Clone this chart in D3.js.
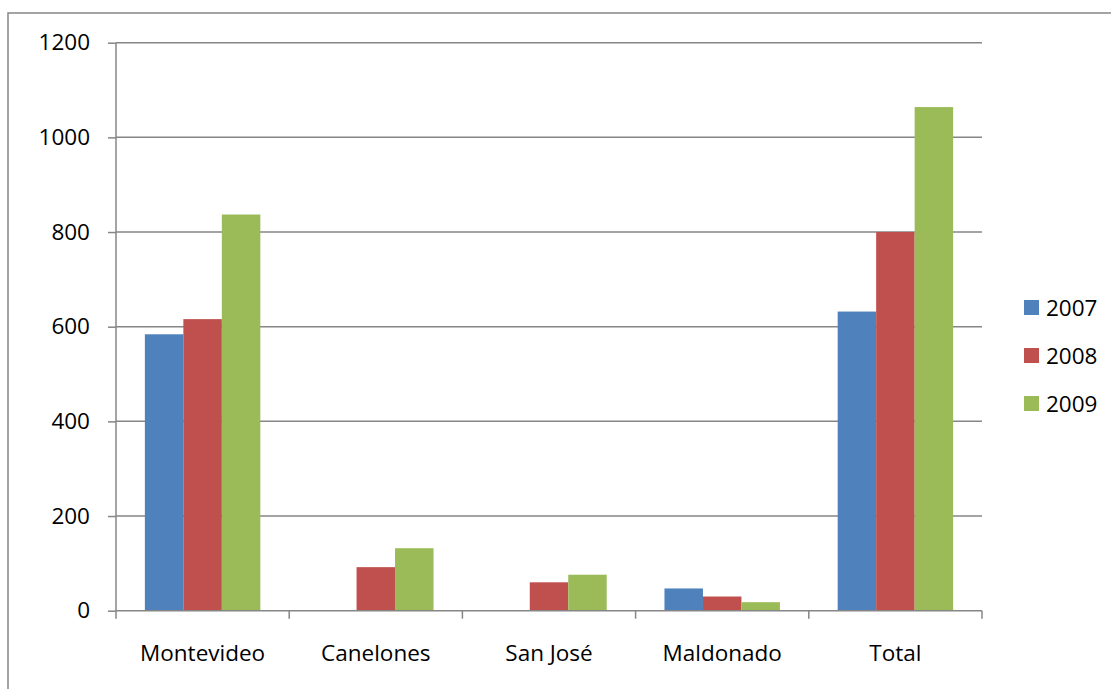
<!DOCTYPE html>
<html>
<head>
<meta charset="utf-8">
<script src="https://cdn.jsdelivr.net/npm/d3@7"></script>
<style>
  html, body { margin: 0; padding: 0; background: #fff; }
  svg { display: block; }
  text { font-family: "Open Sans", "Liberation Sans", sans-serif; fill: #000; }
</style>
</head>
<body>
<svg id="chart" width="1111" height="689"></svg>
<script>
// Departments and yearly values
const categories = ["Montevideo", "Canelones", "San José", "Maldonado", "Total"];
const years = ["2007", "2008", "2009"];
const values2007 = [584, 0, 0, 47, 632];
const values2008 = [616, 92, 60, 30, 800];
const values2009 = [837, 132, 76, 18, 1064];
const yTicks = [0, 200, 400, 600, 800, 1000, 1200];
const colors = ["#4f81bd", "#c0504d", "#9bbb59"];

const series = [values2007, values2008, values2009];

const svg = d3.select("#chart");
const axisColor = "#868686";
const lineWidth = 1.5;
const fontSize = 22.5;

// outer chart frame
svg.append("rect")
  .attr("x", 8).attr("y", 13)
  .attr("width", 1200).attr("height", 800)
  .attr("fill", "none").attr("stroke", axisColor).attr("stroke-width", lineWidth);

const plot = { left: 116, right: 982, top: 42.7, bottom: 610.7 };

const x = d3.scaleBand().domain(categories).range([plot.left, plot.right]).paddingInner(0).paddingOuter(0);
// three bars per band with a gap of 150% of one bar width
const barW = x.bandwidth() / 4.5;
const inner = d3.scaleBand().domain(years)
  .range([barW * 0.75, x.bandwidth() - barW * 0.75]);
const y = d3.scaleLinear().domain([0, 1200]).range([plot.bottom, plot.top]);

// horizontal gridlines
svg.append("g").selectAll("line").data(yTicks.filter(d => d > 0)).join("line")
  .attr("x1", plot.left).attr("x2", plot.right)
  .attr("y1", d => y(d)).attr("y2", d => y(d))
  .attr("stroke", axisColor).attr("stroke-width", lineWidth);

// bars
const groups = svg.append("g").selectAll("g").data(categories).join("g")
  .attr("transform", d => `translate(${x(d)},0)`);
groups.selectAll("rect")
  .data((c, i) => years.map((yr, k) => ({ yr, v: series[k][i], k })))
  .join("rect")
  .attr("x", d => inner(d.yr))
  .attr("width", inner.bandwidth())
  .attr("y", d => y(d.v))
  .attr("height", d => y(0) - y(d.v))
  .attr("fill", d => colors[d.k]);

// y axis
const yAxis = svg.append("g").attr("transform", `translate(${plot.left},0)`)
  .call(d3.axisLeft(y).tickValues(yTicks).tickSize(8).tickPadding(18).tickFormat(d3.format("d")));
yAxis.select(".domain").attr("stroke", axisColor).attr("stroke-width", lineWidth)
  .attr("d", `M0,${plot.top}V${plot.bottom}`);
yAxis.selectAll(".tick line").attr("stroke", axisColor).attr("stroke-width", lineWidth);
yAxis.selectAll(".tick text").attr("font-size", fontSize).attr("font-family", "Open Sans").attr("fill", "#000");

// x axis with ticks on band boundaries
const xAxis = svg.append("g").attr("transform", `translate(0,${plot.bottom})`)
  .call(d3.axisBottom(x).tickSize(0).tickPadding(50));
xAxis.select(".domain").attr("stroke", axisColor).attr("stroke-width", lineWidth)
  .attr("d", `M${plot.left},0H${plot.right}`);
xAxis.selectAll(".tick text").attr("font-size", fontSize).attr("font-family", "Open Sans").attr("fill", "#000")
  .attr("dy", 0);
xAxis.selectAll(".boundary").data(categories.map(c => x(c)).concat([plot.right])).join("line")
  .attr("class", "boundary")
  .attr("x1", d => d).attr("x2", d => d).attr("y1", 0).attr("y2", 8)
  .attr("stroke", axisColor).attr("stroke-width", lineWidth);

// legend
const legend = svg.append("g").selectAll("g").data(years).join("g")
  .attr("transform", (d, i) => `translate(1024,${300 + i * 48})`);
legend.append("rect").attr("width", 15).attr("height", 15).attr("fill", (d, i) => colors[i]);
legend.append("text").attr("x", 22).attr("y", 15.5).attr("font-size", fontSize).text(d => d);
</script>
</body>
</html>
